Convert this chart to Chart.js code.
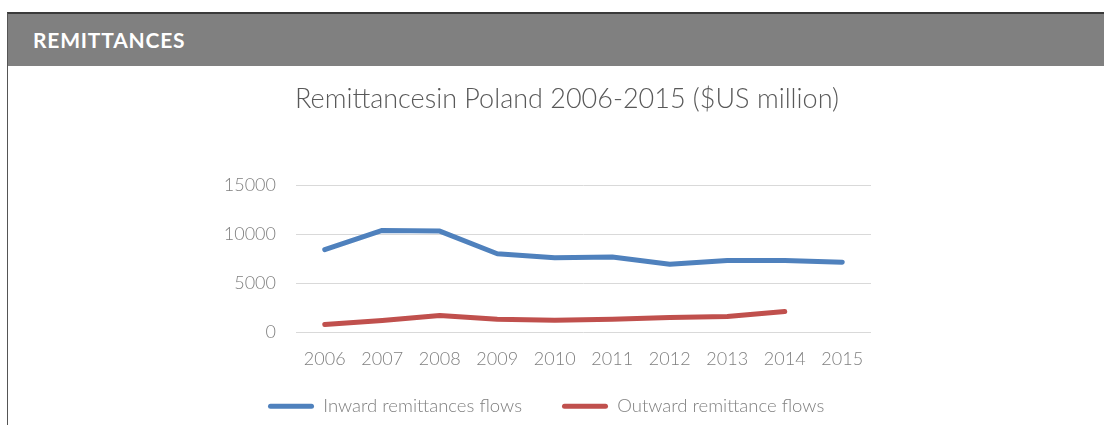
<!DOCTYPE html>
<html>
<head>
<meta charset="utf-8">
<script src="https://cdn.jsdelivr.net/npm/chart.js@4/dist/chart.umd.min.js"></script>
<style>
  html, body { margin: 0; padding: 0; overflow: hidden; background: #fff; }
  body { width: 1104px; height: 425px; position: relative; font-family: Lato, sans-serif; }
  #frame { position: absolute; left: 7px; top: 12px; right: -2px; bottom: -2px; border-left: 1px solid #555; border-top: 2px solid #3a3a3a; }
  #header { position: absolute; left: 8px; top: 14px; right: 0; height: 52px; background: #808080; }
  #header span { position: absolute; left: 25px; top: 13px; color: #fff; font-weight: 700; font-size: 21px; letter-spacing: 0.8px; }
  #wrap { position: absolute; left: 0; top: 67px; width: 1104px; height: 374px; }
</style>
</head>
<body>
<div id="frame"></div>
<div id="header"><span>REMITTANCES</span></div>
<div id="wrap"><canvas id="chart"></canvas></div>
<script>
  const years = ['2006', '2007', '2008', '2009', '2010', '2011', '2012', '2013', '2014', '2015'];
  const inward = [8440, 10410, 10340, 8030, 7620, 7690, 6970, 7350, 7350, 7170];
  const outward = [820, 1220, 1740, 1360, 1260, 1360, 1530, 1630, 2140, null];
  const yTicks = [0, 5000, 10000, 15000];

  const lightFont = { family: 'Lato', weight: '300' };

  // title and legend are not centred on the same line as the plot in the original,
  // so shift their boxes a little after layout
  const nudge = {
    id: 'nudge',
    afterLayout(chart) {
      const t = chart.titleBlock;
      t.left += 23.5;
      t.right += 23.5;
      const l = chart.legend;
      l.left += 12;
      l.right += 12;
      l.top -= 15.5;
      l.bottom -= 15.5;
    }
  };

  new Chart(document.getElementById('chart'), {
    type: 'line',
    data: {
      labels: years,
      datasets: [
        { label: 'Inward remittances flows', data: inward, borderColor: '#4f81bd', backgroundColor: '#4f81bd' },
        { label: 'Outward remittance flows', data: outward, borderColor: '#c0504d', backgroundColor: '#c0504d' }
      ]
    },
    options: {
      responsive: true,
      maintainAspectRatio: false,
      animation: false,
      layout: { padding: { left: 216, right: 233, top: 0, bottom: 0 } },
      elements: {
        line: { borderWidth: 5, tension: 0, borderCapStyle: 'round', borderJoinStyle: 'round' },
        point: { radius: 0, hoverRadius: 0 }
      },
      plugins: {
        title: {
          display: true,
          text: 'Remittancesin Poland 2006-2015 ($US million)',
          color: '#595959',
          font: { ...lightFont, size: 27 },
          padding: { top: 16, bottom: 70 }
        },
        legend: {
          position: 'bottom',
          align: 'start',
          labels: {
            color: '#7f7f7f',
            font: { ...lightFont, size: 18.5 },
            boxWidth: 46,
            boxHeight: 5,
            useBorderRadius: true,
            borderRadius: 2.5,
            padding: 40,
            generateLabels(chart) {
              return Chart.defaults.plugins.legend.labels.generateLabels(chart)
                .map(item => ({ ...item, lineWidth: 0 }));
            }
          }
        },
        tooltip: { enabled: false }
      },
      scales: {
        x: {
          offset: true,
          grid: { display: false },
          border: { display: false },
          ticks: { color: '#7f7f7f', font: { ...lightFont, size: 18 }, padding: 8, maxRotation: 0 },
          afterFit(scale) { scale.height = 40; }
        },
        y: {
          min: 0,
          max: 15000,
          afterBuildTicks(scale) { scale.ticks = yTicks.map(v => ({ value: v })); },
          grid: { color: '#d9d9d9', lineWidth: 1, drawTicks: false },
          border: { display: false },
          ticks: { color: '#7f7f7f', font: { ...lightFont, size: 18 }, padding: 20, callback: v => String(v) },
          afterFit(scale) { scale.width = 80; }
        }
      }
    },
    plugins: [nudge]
  });
</script>
</body>
</html>
